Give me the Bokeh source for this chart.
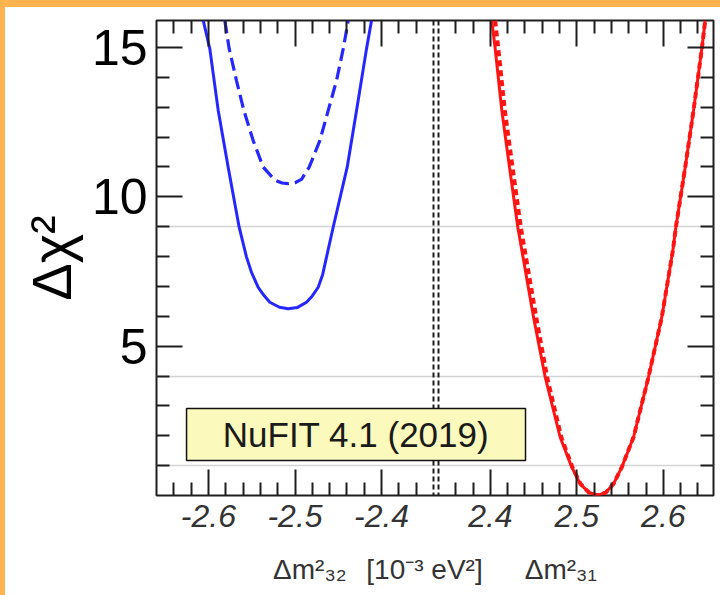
from bokeh.plotting import figure
from bokeh.models import Range1d, LinearAxis, FixedTicker, Label, BoxAnnotation
from bokeh.embed import file_html
from bokeh.resources import INLINE

# ---------------- data ----------------
Y_TICKS = [5, 10, 15]
Y_MINOR = [1, 2, 3, 4, 6, 7, 8, 9, 11, 12, 13, 14]
Y_LABELS = ["5", "10", "15"]
SIGMA_LEVELS = [1, 4, 9]

L_TICKS = [-2.6, -2.5, -2.4]
L_LABELS = ["-2.6", "-2.5", "-2.4"]
L_MINOR = [-2.64, -2.62, -2.58, -2.56, -2.54, -2.52, -2.48, -2.46, -2.44, -2.42, -2.38, -2.36]
R_TICKS = [2.4, 2.5, 2.6]
R_LABELS = ["2.4", "2.5", "2.6"]
R_MINOR = [2.36, 2.38, 2.42, 2.44, 2.46, 2.48, 2.52, 2.54, 2.56, 2.58, 2.62, 2.64]

X_TITLE = "Δm²₃₂\u2002\u2009[10⁻³ eV²]\u2003\u2002Δm²₃₁"
Y_TITLE = "Δχ²"
BOX_TEXT = "NuFIT 4.1 (2019)"

# Delta m^2_32 (inverted ordering), blue
BLUE_SOLID_X = [-2.6060, -2.5984, -2.5887, -2.5772, -2.5645, -2.5560, -2.5500, -2.5425, -2.5360,
                -2.5291, -2.5180, -2.5079, -2.4975, -2.4867, -2.4800, -2.4732, -2.4680, -2.4636,
                -2.4559, -2.4397, -2.4289, -2.4174, -2.4116]
BLUE_SOLID_Y = [15.90, 14.95, 12.89, 10.99, 8.98, 7.98, 7.45, 6.97, 6.70,
                6.47, 6.30, 6.25, 6.29, 6.47, 6.68, 6.97, 7.40, 7.98,
                8.98, 10.99, 12.89, 14.95, 15.90]
BLUE_DASH_X = [-2.5811, -2.5760, -2.5676, -2.5591, -2.5483, -2.5367, -2.5233, -2.5150, -2.5079,
               -2.5000, -2.4925, -2.4836, -2.4713, -2.4616, -2.4520, -2.4443, -2.4385]
BLUE_DASH_Y = [15.90, 14.95, 13.89, 12.89, 11.88, 10.99, 10.56, 10.46, 10.44,
               10.47, 10.58, 10.99, 11.88, 12.89, 13.89, 14.95, 15.90]

# Delta m^2_31 (normal ordering), red
RED_SOLID_X = [2.4016, 2.4056, 2.4132, 2.4221, 2.4317, 2.4499, 2.4634, 2.4807, 2.4941, 2.5038,
               2.5140, 2.5239, 2.5335, 2.5424, 2.5520, 2.5655, 2.5828, 2.5982, 2.6110, 2.6145,
               2.6253, 2.6349, 2.6445, 2.6484]
RED_SOLID_Y = [15.90, 14.95, 12.89, 10.99, 8.98, 5.97, 3.96, 1.95, 0.95, 0.39,
               0.10, 0.00, 0.10, 0.39, 0.95, 1.95, 3.96, 5.97, 8.20, 8.98,
               10.99, 12.89, 14.95, 15.90]
RED_DASH_X = [2.4055, 2.4092, 2.4167, 2.4256, 2.4352, 2.4530, 2.4656, 2.4820, 2.4948, 2.5042,
              2.5140, 2.5239, 2.5335, 2.5424, 2.5520, 2.5655, 2.5828, 2.5982, 2.6110, 2.6145,
              2.6253, 2.6349, 2.6445, 2.6484]
RED_DASH_Y = RED_SOLID_Y

# ---------------- layout ----------------
FONT = "Liberation Sans"
FRAME_W, FRAME_H = 557, 475
LEFT_W, RIGHT_W = 277, 275
L0, L1 = -2.66, -2.34
R0, R1 = 2.34, 2.658
Y0, Y1 = 0, 15.9
XL_END = L0 + (L1 - L0) * FRAME_W / LEFT_W
XR_START = R1 - (R1 - R0) * FRAME_W / RIGHT_W
BLUE = "#2626ff"
RED = "#ff1414"
INK = "#1e1e1e"
ORANGE = "#fdb450"


def to_left_coords(v):
    """map a right-panel value onto the (shared) left-panel coordinate of the frame"""
    return L0 + (v - XR_START) * (XL_END - L0) / (R1 - XR_START)


ALL_X_TICKS = L_TICKS + [to_left_coords(v) for v in R_TICKS]
ALL_X_LABELS = L_LABELS + R_LABELS
ALL_X_MINOR = L_MINOR + [to_left_coords(v) for v in R_MINOR]

p = figure(frame_width=FRAME_W, frame_height=FRAME_H,
           min_border_left=151, min_border_right=7, min_border_top=13, min_border_bottom=100,
           x_range=Range1d(L0, XL_END), y_range=Range1d(Y0, Y1),
           x_axis_location=None, y_axis_location=None,
           toolbar_location=None, output_backend="svg",
           background_fill_color="white", border_fill_color="white",
           outline_line_color=INK, outline_line_width=2,
           styles={"border-top": f"7px solid {ORANGE}", "border-left": f"5px solid {ORANGE}"})
p.extra_x_ranges = {"xr": Range1d(XR_START, R1)}
p.xgrid.visible = False
p.ygrid.visible = False


def style_ticks(ax):
    ax.axis_line_color = None
    ax.major_tick_in = 26
    ax.major_tick_out = 0
    ax.minor_tick_in = 13
    ax.minor_tick_out = 0
    ax.major_tick_line_color = INK
    ax.minor_tick_line_color = INK
    ax.major_tick_line_width = 2
    ax.minor_tick_line_width = 2


xb = LinearAxis(ticker=FixedTicker(ticks=ALL_X_TICKS, minor_ticks=ALL_X_MINOR))
xb.major_label_overrides = {t: s for t, s in zip(ALL_X_TICKS, ALL_X_LABELS)}
style_ticks(xb)
xb.major_label_text_font = FONT
xb.major_label_text_font_style = "italic"
xb.major_label_text_color = "#333333"
xb.major_label_text_font_size = "32px"
xb.major_label_standoff = 9
xb.axis_label = X_TITLE
xb.axis_label_text_font = FONT
xb.axis_label_text_font_style = "normal"
xb.axis_label_text_font_size = "28px"
xb.axis_label_text_color = "#333333"
xb.axis_label_standoff = 24
p.add_layout(xb, "below")

xt = LinearAxis(ticker=FixedTicker(ticks=ALL_X_TICKS, minor_ticks=ALL_X_MINOR))
style_ticks(xt)
xt.major_label_text_color = None
xt.major_label_standoff = 0
p.add_layout(xt, "above")

yl = LinearAxis(ticker=FixedTicker(ticks=Y_TICKS, minor_ticks=Y_MINOR))
yl.major_label_overrides = {t: s for t, s in zip(Y_TICKS, Y_LABELS)}
style_ticks(yl)
yl.major_label_text_font = FONT
yl.major_label_text_font_size = "50px"
yl.major_label_text_color = "black"
yl.major_label_standoff = 9
yl.axis_label = Y_TITLE
yl.axis_label_text_font = FONT
yl.axis_label_text_font_style = "normal"
yl.axis_label_text_font_size = "56px"
yl.axis_label_text_color = "black"
yl.axis_label_standoff = 6
p.add_layout(yl, "left")

yr = LinearAxis(ticker=FixedTicker(ticks=Y_TICKS, minor_ticks=Y_MINOR))
style_ticks(yr)
yr.major_label_text_color = None
yr.major_label_standoff = 0
p.add_layout(yr, "right")

# sigma reference lines
p.hspan(y=SIGMA_LEVELS, line_color="#d4d4d4", line_width=1.5)

# divider between the two panels
p.vspan(x=[L1], line_color=INK, line_width=2, line_dash="5 3")
p.vspan(x=[R0], x_range_name="xr", line_color=INK, line_width=2, line_dash="5 3")

# curves
p.line(BLUE_SOLID_X, BLUE_SOLID_Y, line_color=BLUE, line_width=3)
p.line(BLUE_DASH_X, BLUE_DASH_Y, line_color=BLUE, line_width=3.2, line_dash="13 6")
p.line(RED_SOLID_X, RED_SOLID_Y, x_range_name="xr", line_color=RED, line_width=3)
p.line(RED_DASH_X, RED_DASH_Y, x_range_name="xr", line_color=RED, line_width=4,
       line_dash="6 4")

# NuFIT box
BOX_L, BOX_R, BOX_B, BOX_T = -2.6253, -2.2337, 1.172, 2.913
p.add_layout(BoxAnnotation(left=BOX_L, right=BOX_R, bottom=BOX_B, top=BOX_T,
                           fill_color="#fcf9bd", fill_alpha=1,
                           line_color="#111111", line_width=1.5, line_alpha=1))
p.add_layout(Label(x=(BOX_L + BOX_R) / 2, y=(BOX_B + BOX_T) / 2, text=BOX_TEXT,
                   text_font=FONT, text_font_size="35px", text_color="#1a1a1a",
                   text_align="center", text_baseline="middle"))

open("out.html", "w").write(file_html(p, INLINE))
